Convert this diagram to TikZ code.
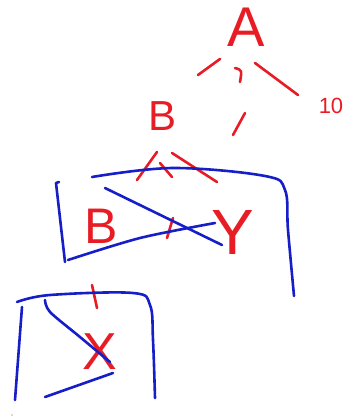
\documentclass[tikz,border=0pt]{standalone}
\usepackage{fontspec}
\setmainfont{Liberation Sans}
\begin{document}
\begin{tikzpicture}[x=1pt,y=-1pt,
  redink/.style={draw={rgb,255:red,232;green,28;blue,36},line width=2.6pt,line cap=round,line join=round},
  blueink/.style={draw={rgb,255:red,22;green,30;blue,200},line width=2.6pt,line cap=round,line join=round},
  letter/.style={text={rgb,255:red,232;green,28;blue,36},inner sep=0pt}]
\useasboundingbox (0,0) rectangle (357,418);
% letters
\node[letter,font=\fontsize{56}{56}\selectfont] (a) at (246,27) {A};
\node[letter,font=\fontsize{42}{42}\selectfont] (b1) at (163,116) {B};
\node[letter,font=\fontsize{50}{50}\selectfont] (b2) at (101,226) {B};
\node[letter,font=\fontsize{64}{64}\selectfont] (y) at (233,232) {Y};
\node[letter,font=\fontsize{52}{52}\selectfont] (x) at (100,352) {X};
\node[letter,font=\fontsize{22}{22}\selectfont] (ten) at (331,106) {10};
% red strokes
\draw[redink] (198,75) -- (220,59);
\draw[redink] (235,68) .. controls (242,70) .. (240,82);
\draw[redink] (255,63) -- (298,95);
\draw[redink] (245,113) -- (233,135);
\draw[redink] (157,152) -- (137,180);
\draw[redink] (160,163) -- (172,177);
\draw[redink] (172,153) -- (217,182);
\draw[redink] (173,218) -- (167,238);
\draw[redink] (92,285) -- (97,308);
% blue strokes, upper box
\draw[blueink] plot[smooth,tension=0.6] coordinates {(92,177) (173,168) (265,176) (285,190) (288,230) (294,296)};
\draw[blueink] (59,182) -- (56,183) -- (65,262);
\draw[blueink] plot[smooth] coordinates {(68,260) (140,238) (215,223)};
\draw[blueink] (105,188) -- (222,245);
% blue strokes, lower box
\draw[blueink] plot[smooth,tension=0.6] coordinates {(17,302) (50,295) (133,293) (150,305) (153,340) (155,398)};
\draw[blueink] (22,307) -- (15,400);
\draw[blueink] plot[smooth] coordinates {(45,300) (50,312) (80,337) (110,362)};
\draw[blueink] (45,397) -- (113,373);
\fill[gray!60] (12,415) circle (0.8);
\end{tikzpicture}
\end{document}
